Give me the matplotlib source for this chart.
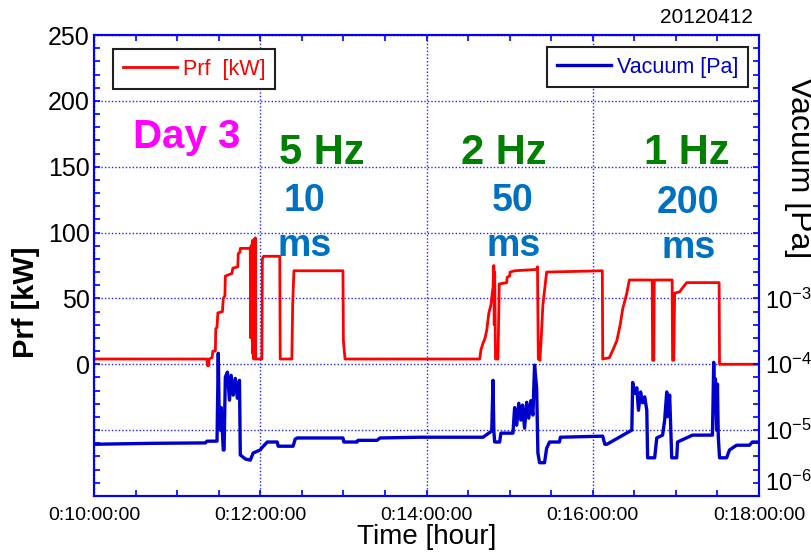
import math
import matplotlib
matplotlib.use("Agg")
import matplotlib.pyplot as plt
from matplotlib.ticker import FuncFormatter, FixedLocator, MultipleLocator, NullFormatter

plt.rcParams['font.family'] = ['Liberation Sans', 'DejaVu Sans']
plt.rcParams['mathtext.fontset'] = 'custom'
plt.rcParams['mathtext.rm'] = 'Liberation Sans'
plt.rcParams['mathtext.it'] = 'Liberation Sans:italic'
plt.rcParams['mathtext.bf'] = 'Liberation Sans:bold'

# RF power [kW] vs time [hour]
prf_time = [10.00, 11.36, 11.365, 11.38, 11.385, 11.42, 11.43, 11.46, 11.465, 11.48,
            11.49, 11.545, 11.555, 11.575, 11.58, 11.66, 11.67, 11.73, 11.735, 11.755,
            11.76, 11.88, 11.885, 11.89, 11.895, 11.905, 11.91, 11.915, 11.92, 11.93,
            11.935, 11.94, 11.945, 12.02, 12.025, 12.04, 12.235, 12.24, 12.38, 12.39,
            12.405, 12.995, 13.00, 13.02,
            14.64, 14.655, 14.68, 14.705, 14.725, 14.75, 14.775, 14.795, 14.80, 14.81,
            14.815, 14.82, 14.83, 14.86, 14.875, 14.965, 14.97, 15.00, 15.005, 15.06,
            15.325, 15.335, 15.345, 15.365, 15.38, 15.40, 15.445, 16.115, 16.12, 16.20,
            16.25, 16.29, 16.33, 16.36, 16.41, 16.44, 16.715, 16.72, 16.735, 16.74,
            16.955, 16.96, 16.975, 16.985, 17.045, 17.08, 17.13, 17.52, 17.525, 18.00]
prf_kw = [4, 4, -1, -1, 4, 5, 10, 10, 27, 28,
          39, 40, 50, 52, 67, 69, 73, 74, 84, 85,
          88, 88, 20, 90, 45, 94, 8, 60, 4, 95,
          4, 96, 4, 4, 80, 82, 82, 4, 4, 45,
          71, 71, 18, 4,
          4, 11, 16, 20, 26, 39, 45, 56, 58, 75,
          30, 70, 4, 4, 61, 62, 66, 67, 70, 71,
          72, 74, 4, 3, 20, 45, 70, 71, 4, 5,
          12, 18, 30, 42, 54, 64, 64, 3, 3, 64,
          64, 3, 3, 54, 55, 58, 62, 62, 0, 0]

# vacuum pressure [Pa] vs time [hour]
vac_time = [10.00, 10.68, 11.34, 11.36, 11.48, 11.495, 11.505, 11.52, 11.53, 11.555,
            11.565, 11.58, 11.605, 11.63, 11.65, 11.675, 11.70, 11.725, 11.75, 11.76,
            11.82, 11.88, 11.915, 12.00, 12.025, 12.085, 12.205, 12.215, 12.395, 12.42,
            12.445, 12.995, 13.005, 13.165, 13.175, 13.405, 13.44, 13.92, 14.68, 14.785,
            14.80, 14.81, 14.82, 14.88, 14.895, 15.04, 15.06, 15.085, 15.11, 15.135,
            15.155, 15.18, 15.205, 15.23, 15.255, 15.28, 15.30, 15.325, 15.34, 15.36,
            15.42, 15.445, 15.48, 15.60, 15.61, 16.12, 16.145, 16.17, 16.47, 16.48,
            16.505, 16.53, 16.55, 16.575, 16.60, 16.625, 16.65, 16.66, 16.745, 16.77,
            16.84, 16.865, 16.89, 16.90, 16.925, 16.95, 17.01, 17.02, 17.20, 17.44,
            17.455, 17.465, 17.475, 17.49, 17.50, 17.51, 17.525, 17.61, 17.645, 17.73,
            17.885, 17.92, 18.00]
vac_pa = [6.1e-6, 6.3e-6, 6.4e-6, 6.8e-6, 6.8e-6, 1.47e-4, 2.0e-5, 1.0e-5, 2.2e-5, 5.0e-6,
          5.0e-6, 6.4e-5, 7.6e-5, 2.85e-5, 6.8e-5, 3.4e-5, 6.1e-5, 3.05e-5, 5.7e-5, 4.2e-6,
          3.65e-6, 3.5e-6, 4.5e-6, 5.0e-6, 5.5e-6, 6.6e-6, 6.6e-6, 5.7e-6, 5.7e-6, 7.3e-6,
          7.6e-6, 7.6e-6, 6.6e-6, 6.6e-6, 7.0e-6, 7.0e-6, 7.6e-6, 7.8e-6, 7.8e-6, 9.7e-6,
          5.7e-5, 9.7e-6, 6.6e-6, 6.6e-6, 9.0e-6, 9.0e-6, 2.2e-5, 1.19e-5, 2.56e-5, 1.42e-5,
          2.4e-5, 1.07e-5, 2.65e-5, 1.52e-5, 2.8e-5, 1.69e-5, 9.7e-5, 4.3e-5, 4.5e-6, 3.2e-6,
          3.2e-6, 5.3e-6, 6.6e-6, 6.6e-6, 7.8e-6, 8.1e-6, 6.1e-6, 6.1e-6, 1.0e-5, 5.3e-5,
          3.6e-5, 4.4e-5, 2.0e-5, 3.8e-5, 2.6e-5, 3.2e-5, 2.0e-5, 3.8e-6, 3.8e-6, 7.6e-6,
          8.4e-6, 1.42e-5, 3.8e-5, 1.6e-5, 3.4e-5, 3.8e-6, 3.8e-6, 6.6e-6, 8.4e-6, 8.4e-6,
          1.07e-4, 3.0e-5, 6.0e-5, 1.0e-5, 5.0e-5, 8.0e-6, 3.8e-6, 3.8e-6, 5.0e-6, 5.9e-6,
          5.9e-6, 6.6e-6, 6.6e-6]

# labels written on the plot: (text, time, kW)
day_label = ("Day 3", 11.117, 164)
freq_labels = [("5 Hz", 12.745, 152), ("2 Hz", 14.93, 152), ("1 Hz", 17.13, 152)]
width_labels = [("10", 12.53, 116), ("50", 15.04, 116), ("200", 17.15, 115)]
ms_labels = [("ms", 12.53, 82), ("ms", 15.05, 82), ("ms", 17.15, 81)]

AXBLUE = '#0000FF'

fig, ax1 = plt.subplots(figsize=(8.11, 5.53), dpi=100)
fig.subplots_adjust(left=0.1159, right=0.9359, bottom=0.1031, top=0.9367)
ax2 = ax1.twinx()

ax1.plot(prf_time, prf_kw, color='#FF0000', lw=2.0, label='Prf  [kW]')
ax2.plot(vac_time, vac_pa, color='#0000CC', lw=2.4, label='Vacuum [Pa]')

ax1.set_xlim(10, 18)
ax1.set_ylim(-100, 250)
ax2.set_yscale('log')
ax2.set_ylim(1e-6, 1e1)

ax1.xaxis.set_major_locator(MultipleLocator(2))
ax1.xaxis.set_minor_locator(MultipleLocator(0.5))
ax1.xaxis.set_major_formatter(FuncFormatter(lambda v, p: "0:%02d:00:00" % int(round(v))))
ax1.yaxis.set_major_locator(MultipleLocator(50))
ax1.yaxis.set_minor_locator(MultipleLocator(10))
ax1.yaxis.set_major_formatter(FuncFormatter(lambda v, p: "%d" % v if v >= 0 else ""))

decades = list(range(-6, 2))
ax2.yaxis.set_major_locator(FixedLocator([10.0 ** k for k in decades]))
ax2.yaxis.set_minor_locator(FixedLocator([10.0 ** (k + j / 5) for k in decades[:-1] for j in range(1, 5)]))
ax2.yaxis.set_major_formatter(FuncFormatter(
    lambda v, p: r"$10^{%d}$" % round(math.log10(v)) if v < 2e-3 else ""))
ax2.yaxis.set_minor_formatter(NullFormatter())

ax1.tick_params(axis='x', which='both', direction='in', top=True, bottom=True,
                color=AXBLUE, length=4, width=1.2, labelsize=14, pad=8)
ax1.tick_params(axis='y', which='both', direction='in', left=True, right=False,
                color=AXBLUE, length=4, width=1.2, labelsize=18, pad=3)
ax2.tick_params(axis='y', which='both', direction='in', right=True,
                color=AXBLUE, length=4, width=1.2, labelsize=17, pad=4)

# lift the bottom 10^-6 label a bit, as in the original
ax2.yaxis.get_major_ticks()[0].label2.set_va('bottom')

for ax in (ax1, ax2):
    for s in ax.spines.values():
        s.set_color(AXBLUE)
        s.set_linewidth(1.5)

ax1.grid(True, which='major', linestyle=(0, (1, 1.5)), color='#2020FF', linewidth=1.0)

ax1.set_xlabel("Time [hour]", fontsize=20, labelpad=0)
ax1.set_ylabel("Prf [kW]", fontsize=21, fontweight='bold')
ax1.yaxis.set_label_coords(-0.081, 0.42)
fig.text(0.985, 0.696, "Vacuum [Pa]", rotation=270, fontsize=23, ha='center', va='center')
fig.text(0.9285, 0.969, "20120412", fontsize=15, ha='right', va='center')

ax1.text(day_label[1], day_label[2], day_label[0], color='#FF00FF', fontsize=29,
         fontweight='bold', ha='center', va='baseline')
for txt, t, y in freq_labels:
    ax1.text(t, y, txt, color='#008000', fontsize=30, fontweight='bold', ha='center', va='baseline')
for txt, t, y in width_labels + ms_labels:
    ax1.text(t, y, txt, color='#0070C0', fontsize=27, fontweight='bold', ha='center', va='baseline')

leg1 = ax1.legend(loc='upper left', bbox_to_anchor=(0.0286, 0.970), fontsize=15.5,
                  handlelength=2.5, handletextpad=0.3, borderpad=0.45, borderaxespad=0,
                  fancybox=False, framealpha=1, edgecolor='#202020', labelcolor='linecolor')
leg1.get_frame().set_linewidth(1.5)
leg2 = ax2.legend(loc='upper right', bbox_to_anchor=(0.9835, 0.974), fontsize=15.5,
                  handlelength=2.5, handletextpad=0.3, borderpad=0.45, borderaxespad=0,
                  fancybox=False, framealpha=1, edgecolor='#202020', labelcolor='linecolor')
leg2.get_frame().set_linewidth(1.5)

fig.savefig("out.png", dpi=100)
